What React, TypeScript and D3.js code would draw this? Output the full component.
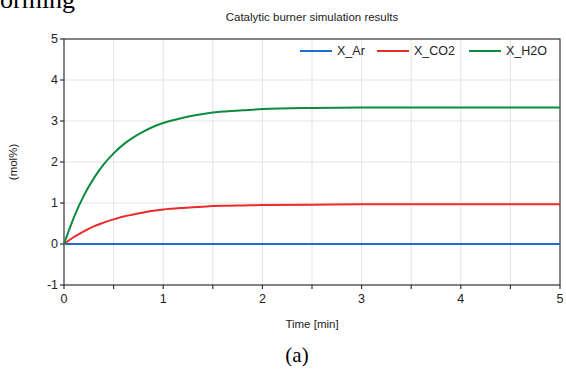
import React from 'react';
import * as d3 from 'd3';

// values
const times = [0, 0.1, 0.2, 0.3, 0.4, 0.5, 0.6, 0.7, 0.8, 0.9, 1.0, 1.2, 1.4, 1.6, 1.8, 2.0, 2.5, 3.0, 4.0, 5.0];
const xAr = [0, 0, 0, 0, 0, 0, 0, 0, 0, 0, 0, 0, 0, 0, 0, 0, 0, 0, 0, 0];
const xCO2 = [0, 0.17, 0.31, 0.43, 0.52, 0.6, 0.67, 0.72, 0.77, 0.81, 0.84, 0.88, 0.91, 0.93, 0.94, 0.95, 0.96, 0.97, 0.97, 0.97];
const xH2O = [0, 0.65, 1.18, 1.6, 1.94, 2.21, 2.43, 2.6, 2.74, 2.86, 2.95, 3.08, 3.17, 3.23, 3.26, 3.29, 3.32, 3.33, 3.33, 3.33];
const seriesNames = ['X_Ar', 'X_CO2', 'X_H2O'];
const seriesColors = ['#1c6dd0', '#ec2a2a', '#0b8c3e'];
const xTicks = [0, 1, 2, 3, 4, 5];
const yTicks = [-1, 0, 1, 2, 3, 4, 5];

const W = 566;
const H = 369;
const margin = { top: 39, right: 6, bottom: 84, left: 64 };

export default function App() {
  const x = d3.scaleLinear().domain([0, 5]).range([margin.left, W - margin.right]);
  const y = d3.scaleLinear().domain([-1, 5]).range([H - margin.bottom, margin.top]);

  const series = [xAr, xCO2, xH2O];
  const line = d3.line<number>()
    .x((_, i) => x(times[i]))
    .y(d => y(d))
    .curve(d3.curveMonotoneX);

  const halfTicks = d3.range(0, 5.01, 0.5);
  const font = 'Liberation Sans, Arial, sans-serif';
  const legendX = [300, 377, 469];

  return (
    <svg width={W} height={H} style={{ position: 'absolute', left: 0, top: 0, background: '#fff' }}>
      {/* leftover text from the page above the figure */}
      <text x={0} y={8} fontFamily="Liberation Serif, Times New Roman, serif" fontSize={26} fill="#000">orming</text>

      <text x={(x(0) + x(5)) / 2} y={21} textAnchor="middle" fontFamily={font} fontSize={11.5} fill="#222">
        Catalytic burner simulation results
      </text>

      {/* grid */}
      {halfTicks.slice(1, -1).map(t => (
        <line key={'gx' + t} x1={x(t)} x2={x(t)} y1={y(5)} y2={y(-1)} stroke="#e4e4e4" strokeWidth={1} />
      ))}
      {yTicks.slice(1, -1).map(t => (
        <line key={'gy' + t} x1={x(0)} x2={x(5)} y1={y(t)} y2={y(t)} stroke="#e4e4e4" strokeWidth={1} />
      ))}

      {/* frame */}
      <rect x={x(0)} y={y(5)} width={x(5) - x(0)} height={y(-1) - y(5)} fill="none" stroke="#333" strokeWidth={1.2} />

      {/* ticks */}
      {halfTicks.map(t => (
        <line key={'tx' + t} x1={x(t)} x2={x(t)} y1={y(-1)} y2={y(-1) + 4} stroke="#333" strokeWidth={1.2} />
      ))}
      {yTicks.map(t => (
        <line key={'ty' + t} x1={x(0) - 4} x2={x(0)} y1={y(t)} y2={y(t)} stroke="#333" strokeWidth={1.2} />
      ))}
      {xTicks.map(t => (
        <text key={'lx' + t} x={x(t)} y={y(-1) + 18} textAnchor="middle" fontFamily={font} fontSize={12.5} fill="#222">{t}</text>
      ))}
      {yTicks.map(t => (
        <text key={'ly' + t} x={x(0) - 6} y={y(t) + 4} textAnchor="end" fontFamily={font} fontSize={12.5} fill="#222">{t}</text>
      ))}

      <text x={(x(0) + x(5)) / 2} y={328} textAnchor="middle" fontFamily={font} fontSize={11.5} fill="#222">Time [min]</text>
      <text transform={`translate(17,${(y(5) + y(-1)) / 2}) rotate(-90)`} textAnchor="middle" fontFamily={font} fontSize={11.5} fill="#222">(mol%)</text>

      {/* series */}
      {series.map((s, i) => (
        <path key={seriesNames[i]} d={line(s) || ''} fill="none" stroke={seriesColors[i]} strokeWidth={2} />
      ))}

      {/* legend */}
      {seriesNames.map((n, i) => (
        <g key={'lg' + n}>
          <line x1={legendX[i]} x2={legendX[i] + 32} y1={51} y2={51} stroke={seriesColors[i]} strokeWidth={2} />
          <text x={legendX[i] + 37} y={55} fontFamily={font} fontSize={12.5} fill="#222">{n}</text>
        </g>
      ))}

      <text x={297} y={362} textAnchor="middle" fontFamily="Liberation Serif, Times New Roman, serif" fontSize={21} fill="#000">(a)</text>
    </svg>
  );
}
